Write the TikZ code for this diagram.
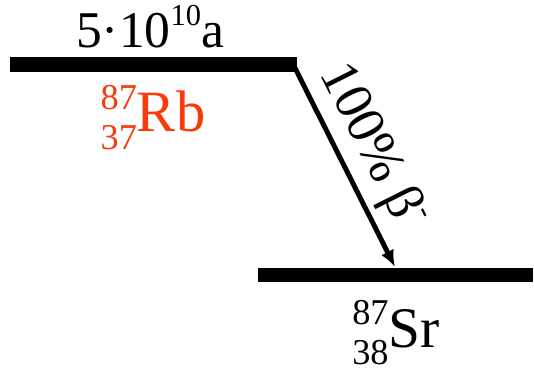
\documentclass[tikz,border=0pt]{standalone}
\usepackage{fontspec}
\setmainfont{Liberation Serif}
\usepackage{tikz}
\usetikzlibrary{arrows.meta,positioning}

\definecolor{rbred}{RGB}{250,58,10}
\newcommand{\supr}[2]{\raisebox{#1}{\fontsize{26pt}{26pt}\selectfont #2}}
\newcommand{\nucl}[3]{\makebox[0pt][l]{\raisebox{19pt}{\fontsize{31pt}{31pt}\selectfont #1}}\raisebox{-15pt}{\fontsize{31pt}{31pt}\selectfont #2}#3}

\begin{document}
\begin{tikzpicture}[x=0.03cm, y=-0.03cm,
			      level/.style={line width=12.5pt},
			      decay/.style={line width=4.2pt, -{Latex[length=0.5cm, width=0.42cm]}},
			      every node/.style={inner sep=0pt, font=\fontsize{44pt}{44pt}\selectfont}]
		      \useasboundingbox (0,0) rectangle (534,371);
		      % levels
		      \coordinate (rbL) at (10,64.5);
		      \coordinate (rbR) at (297,64.5);
		      \coordinate (srL) at (258,275);
		      \coordinate (srR) at (533,275);
		      \draw[level] (rbL) -- (rbR);
		      \draw[level] (srL) -- (srR);
		      \node[anchor=base] (halflife) at (150,48) {5·10\supr{19.5pt}{10}a};
		      \node[anchor=base, text=rbred, font=\fontsize{50pt}{50pt}\selectfont] (rb) at (153,132) {\nucl{87}{37}{Rb}};
		      \node[anchor=base, font=\fontsize{49pt}{49pt}\selectfont] (sr) at (396,347) {\nucl{87}{38}{Sr}};
		      % transition
		      \coordinate (from) at (293,64);
		      \coordinate (to) at (395,267);
		      \draw[decay] (from) -- node[pos=0.48, above=5pt, sloped, font=\fontsize{46pt}{46pt}\selectfont] (branch) {100\% β\supr{20pt}{-}} (to);
	      \end{tikzpicture}
\end{document}
